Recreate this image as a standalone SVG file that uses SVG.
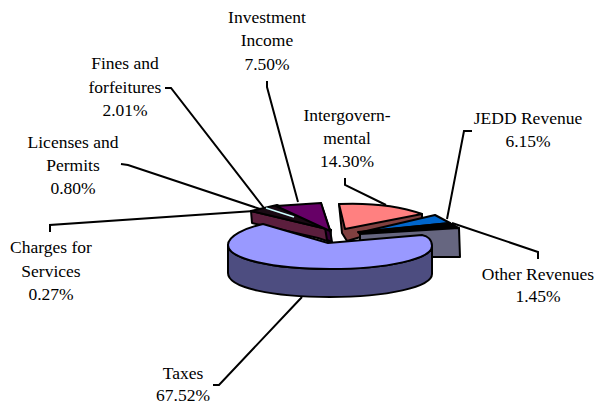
<svg xmlns="http://www.w3.org/2000/svg" width="594" height="404" viewBox="0 0 594 404">
<style>
.sl{stroke:#000;stroke-width:2;stroke-linejoin:round}
.ld{fill:none;stroke:#000;stroke-width:2;stroke-linejoin:miter}
</style>
<rect width="594" height="404" fill="#fff"/>
<g id="slice-small">
<polygon class="sl" points="251,211 252,223 318,238 330,242 331,230" fill="#5B1E3D"/>
<polygon class="sl" points="251,211 277,205 331,230" fill="#1a0a14"/>
<line x1="266" y1="208" x2="294" y2="217" stroke="#CCFFFF" stroke-width="1.6"/>
</g>
<g id="slice-investment">
<polygon class="sl" points="321,203 330,230 332,242 327,240" fill="#330033"/>
<polygon class="sl" points="276,206 321,203 330,231" fill="#660066"/>
</g>
<g id="slice-intergovernmental">
<path class="sl" d="M339,204 L342,233 L347,241 L422,219 L422,214 Z" fill="#804040"/>
<path class="sl" d="M339,204 Q388,202 422,214 L345,229 Z" fill="#FF8080"/>
</g>
<g id="slice-jedd">
<polygon class="sl" points="362,232 435,215 450,223" fill="#0066CC"/>
</g>
<g id="slice-other">
<polygon class="sl" points="358,232 450,223 459,228 360,234" fill="#000"/>
<polygon class="sl" points="360,234 459,228 460,257 360,257" fill="#666680"/>
</g>
<g id="slice-taxes">
<path class="sl" d="M228,245 L228,273 C228,288 273,297 330,297 C387,297 432,287 432,274 L432,246 C432,259 387,269 330,269 C273,269 228,259 228,245 Z" fill="#4D4D80"/>
<path class="sl" d="M328,243 L263,224 C245,228 228,236 228,245 C228,259 273,269 330,269 C387,269 432,259 432,246 C432,240 428,236 422,235 Z" fill="#9999FF"/>
</g>
<g id="connectors">
<polyline class="ld" points="267,81 267,87 298,202"/>
<polyline class="ld" points="165,88 171,88 264,208"/>
<polyline class="ld" points="121,164 128,165 260,209"/>
<polyline class="ld" points="50,232 50,225 254,211"/>
<polyline class="ld" points="213,385 219,385 302,297"/>
<polyline class="ld" points="345,178 345,185 386,205"/>
<polyline class="ld" points="472,131 464,131 447,219"/>
<polyline class="ld" points="452,223 538,252 538,259"/>
</g>
<g id="labels" font-family="'Liberation Serif', 'Times New Roman', 'DejaVu Serif', serif" font-size="17.5" fill="#000" text-anchor="middle">
<text x="267" y="23">Investment</text>
<text x="267" y="46">Income</text>
<text x="267" y="70">7.50%</text>
<text x="125" y="69">Fines and</text>
<text x="125" y="93">forfeitures</text>
<text x="125" y="116">2.01%</text>
<text x="73" y="148">Licenses and</text>
<text x="73" y="171">Permits</text>
<text x="73" y="194">0.80%</text>
<text x="51" y="253">Charges for</text>
<text x="51" y="277">Services</text>
<text x="51" y="300">0.27%</text>
<text x="183" y="379">Taxes</text>
<text x="183" y="401">67.52%</text>
<text x="347" y="121">Intergovern-</text>
<text x="347" y="144">mental</text>
<text x="347" y="167">14.30%</text>
<text x="528" y="124">JEDD Revenue</text>
<text x="528" y="147">6.15%</text>
<text x="538" y="280">Other Revenues</text>
<text x="538" y="302">1.45%</text>
</g>
</svg>
